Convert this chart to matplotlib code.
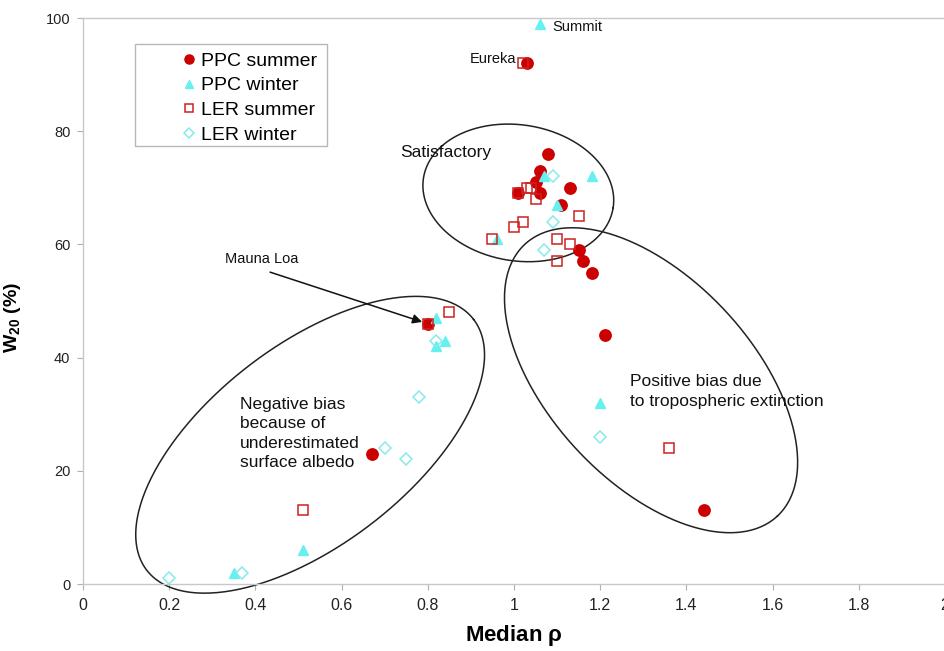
import numpy as np
import matplotlib
matplotlib.use("Agg")
import matplotlib.pyplot as plt
from matplotlib.patches import Rectangle

plt.rcParams['font.family'] = ['Liberation Sans', 'DejaVu Sans']
plt.rcParams['mathtext.default'] = 'regular'

# ---------------- data ----------------
ppc_summer_x = [1.03, 1.08, 1.06, 1.05, 1.06, 1.13, 1.11, 1.01, 0.80, 1.15, 1.16, 1.18, 1.21, 0.67, 1.44]
ppc_summer_y = [92, 76, 73, 71, 69, 70, 67, 69, 46, 59, 57, 55, 44, 23, 13]

ppc_winter_x = [1.06, 1.07, 1.18, 1.10, 0.96, 0.82, 0.84, 0.82, 1.20, 0.51, 0.35]
ppc_winter_y = [99, 72, 72, 67, 61, 47, 43, 42, 32, 6, 2]

ler_summer_x = [1.02, 1.03, 1.04, 1.01, 1.05, 1.15, 1.02, 1.00, 0.95, 1.10, 1.13, 1.10, 0.80, 0.85, 0.51, 1.36]
ler_summer_y = [92, 70, 70, 69, 68, 65, 64, 63, 61, 61, 60, 57, 46, 48, 13, 24]

ler_winter_x = [1.09, 1.09, 1.07, 0.82, 0.78, 0.70, 0.75, 1.20, 0.37, 0.20]
ler_winter_y = [72, 64, 59, 43, 33, 24, 22, 26, 2, 1]

series_labels = ['PPC summer', 'PPC winter', 'LER summer', 'LER winter']
x_ticks = [0, 0.2, 0.4, 0.6, 0.8, 1.0, 1.2, 1.4, 1.6, 1.8, 2.0]
x_tick_labels = ['0', '0.2', '0.4', '0.6', '0.8', '1', '1.2', '1.4', '1.6', '1.8', '2']
y_ticks = [0, 20, 40, 60, 80, 100]

# ---------------- figure ----------------
W, H = 945, 651
fig = plt.figure(figsize=(W / 100, H / 100), dpi=100)
ax = fig.add_axes([83 / W, 67 / H, 862 / W, 566 / H])
ax.set_xlim(0, 2)
ax.set_ylim(0, 100)

red = '#CC0000'
cyan = '#66F0F0'
sq_red = '#CC2222'
dia_cyan = '#88EAEA'

ax.plot(ppc_summer_x, ppc_summer_y, linestyle='none', marker='o', ms=8.2,
        mfc=red, mec=red, label=series_labels[0], zorder=3)
ax.plot(ppc_winter_x, ppc_winter_y, linestyle='none', marker='^', ms=7.5,
        mfc=cyan, mec=cyan, label=series_labels[1], zorder=4)
ax.plot(ler_summer_x, ler_summer_y, linestyle='none', marker='s', ms=7.3,
        mfc='none', mec=sq_red, mew=1.1, label=series_labels[2], zorder=5)
ax.plot(ler_winter_x, ler_winter_y, linestyle='none', marker='D', ms=6.0,
        mfc='none', mec=dia_cyan, mew=1.1, label=series_labels[3], zorder=6)

# axes styling
ax.spines['right'].set_visible(False)
for s in ['left', 'bottom', 'top']:
    ax.spines[s].set_color('#c8c8c8')
    ax.spines[s].set_linewidth(1.0)
ax.set_xticks(x_ticks)
ax.set_xticklabels(x_tick_labels, family=['Liberation Sans Narrow', 'Liberation Sans'], fontsize=11.5)
ax.set_yticks(y_ticks)
ax.tick_params(axis='both', direction='out', length=4, color='#b0b0b0', labelcolor='#222222')
ax.tick_params(axis='y', labelsize=10.5, pad=5)
ax.tick_params(axis='x', pad=6)

ax.set_xlabel(r'Median $\rho$', fontsize=16, fontweight='bold',
              family=['Liberation Sans Narrow', 'Liberation Sans'], labelpad=7)
ax.set_ylabel(r'W$_{20}$ (%)', fontsize=14, fontweight='bold')
ax.yaxis.set_label_coords(-60 / 862, 0.47)

# legend: frame drawn separately
ax.add_patch(Rectangle((52 / 862, 438 / 566), 192 / 862, 102 / 566, transform=ax.transAxes,
                       fill=False, ec='#b8b8b8', lw=1.0, zorder=7))
leg = ax.legend(loc='upper left', bbox_to_anchor=(99 / 862, (584 - 52) / 566),
                frameon=False, fontsize=14, handlelength=0.7, handletextpad=0.3,
                labelspacing=0.37, borderpad=0, borderaxespad=0, markerscale=0.8)

# ---------------- annotations ----------------
px_per_x = 862 / 2.0
px_per_y = 566 / 100.0

def draw_ellipse(cx, cy, a_px, b_px, angle_deg):
    t = np.linspace(0, 2 * np.pi, 400)
    th = np.deg2rad(angle_deg)
    dx = a_px * np.cos(t) * np.cos(th) - b_px * np.sin(t) * np.sin(th)
    dy = a_px * np.cos(t) * np.sin(th) + b_px * np.sin(t) * np.cos(th)
    ax.plot(cx + dx / px_per_x, cy + dy / px_per_y, color='#222222', lw=1.1,
            clip_on=False, zorder=2)

draw_ellipse(1.010, 69.1, 96.0, 68.0, -9.0)
draw_ellipse(1.318, 36.0, 185.5, 101.6, -47.1)
draw_ellipse(0.527, 24.6, 206.0, 100.0, 37.5)

ax.text(0.7355, 76.3, 'Satisfactory', fontsize=12.5, va='center', ha='left', color='#111111')
ax.text(0.364, 26.6, 'Negative bias\nbecause of\nunderestimated\nsurface albedo',
        fontsize=12.5, va='center', ha='left', linespacing=1.36, color='#111111')
ax.text(1.269, 34.0, 'Positive bias due\nto tropospheric extinction',
        fontsize=12.5, va='center', ha='left', linespacing=1.42, color='#111111')
ax.text(1.090, 98.4, 'Summit', fontsize=10.5, va='center', ha='left', color='#111111')
ax.text(1.0046, 92.8, 'Eureka', fontsize=10.5, va='center', ha='right', color='#111111')
ax.text(0.329, 57.4, 'Mauna Loa', fontsize=10.5, va='center', ha='left', color='#111111')
ax.annotate('', xy=(0.787, 46.3), xytext=(0.434, 55.1),
            arrowprops=dict(arrowstyle='-|>', color='#111111', lw=1.1,
                            mutation_scale=14, shrinkA=0, shrinkB=0))

fig.savefig('out.png', dpi=100)
